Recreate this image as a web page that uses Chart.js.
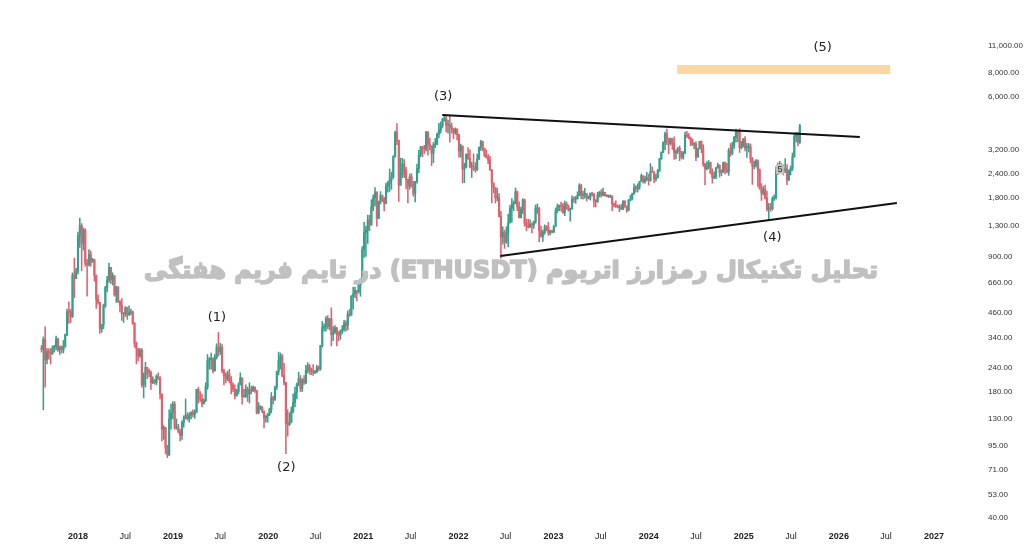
<!DOCTYPE html>
<html>
<head>
<meta charset="utf-8">
<script src="https://cdn.jsdelivr.net/npm/chart.js@4.4.1/dist/chart.umd.min.js"></script>
<style>
  html, body { margin: 0; padding: 0; background: #fff; }
  #wrap { width: 1024px; height: 545px; position: relative; }
</style>
</head>
<body>
<div id="wrap"><canvas id="chart"></canvas></div>
<script>
// Weekly ETHUSDT candles, first week starts Mon 14 Aug 2017
const firstWeek = Date.UTC(2017, 7, 14);
const firstOpen = 301;

const closes = [
  // 2017
  298,335,262,290,285,283,302,309,336,296,306,296,307,354,466,463,441,719,690,756,
  // 2018
  1153,1300,1050,1230,830,815,920,840,865,720,540,520,380,400,500,620,680,790,680,715,570,620,525,500,455,455,490,450,460,465,405,320,300,275,295,195,220,240,232,225,200,206,200,216,210,175,115,117,92,85,130,140,
  // 2019
  155,117,118,112,107,125,132,136,130,136,140,137,141,185,167,165,156,162,190,260,265,265,230,270,306,290,305,230,218,210,222,205,195,185,172,180,195,212,170,170,185,175,185,182,190,182,140,150,150,142,132,135,
  // 2020
  137,146,167,163,190,228,260,275,218,200,123,122,125,143,158,178,197,210,187,207,200,231,244,233,228,226,227,240,236,311,386,390,430,390,428,355,365,384,355,353,370,378,407,396,453,448,560,575,600,590,640,685,
  // 2021
  975,1195,1230,1390,1315,1615,1800,1935,1415,1720,1855,1785,1690,2075,2140,2235,2310,2945,3925,3580,2100,2390,2710,2510,2250,2080,2320,2130,1900,2190,2560,3010,3310,3240,3225,3950,3410,3330,3070,3390,3410,3850,4050,4290,4610,4620,4300,4300,4200,4120,3920,4080,
  // 2022
  3830,3150,3330,2540,2600,3030,2880,2620,2620,2550,2520,2860,3300,3520,3260,2990,2920,2830,2520,2150,2040,1810,1810,1450,1130,1200,1070,1170,1340,1600,1680,1700,1940,1620,1425,1575,1760,1335,1295,1275,1320,1305,1360,1590,1600,1220,1140,1195,1280,1265,1190,1220,
  // 2023
  1200,1290,1550,1630,1650,1630,1515,1680,1640,1565,1585,1780,1775,1795,1860,2090,1865,1870,1900,1800,1805,1910,1890,1750,1720,1860,1930,1865,1930,1850,1860,1830,1845,1685,1655,1635,1615,1625,1580,1735,1635,1560,1760,1785,1895,2045,2015,2065,2195,2350,2195,2265,
  // 2024
  2280,2220,2470,2455,2260,2290,2500,2880,3110,3490,3880,3650,3450,3650,3450,3100,3150,3260,3130,2930,3070,3820,3780,3705,3620,3420,3435,2930,3250,3535,3270,2690,2555,2610,2750,2430,2300,2320,2580,2660,2440,2470,2750,2510,2460,3180,3070,3360,3710,4000,3960,3280,3360,
  // 2025
  3640,3270,3310,3310,2870,2630,2660,2810,2520,2020,1910,2000,1800,1580,1600,1590,1790,1810,2510,2470,2530,2530,2510,2545,2230,2500,2570,2940,3750,3830,3500,4260
];

const highs = [
  312,345,389,300,300,300,310,312,349,340,310,310,331,357,480,524,480,740,880,780,
  1200,1420,1330,1260,1250,870,975,960,880,870,720,570,520,400,510,630,710,830,790,740,715,630,630,530,545,460,495,490,500,480,470,410,325,300,300,300,225,255,240,235,230,215,208,220,225,215,175,120,118,95,145,155,
  160,160,130,122,115,127,135,165,140,140,142,145,145,185,190,180,175,165,200,280,270,285,270,280,318,364,320,315,235,225,230,235,215,200,195,185,200,225,212,185,195,190,200,192,193,190,183,158,152,150,143,135,
  139,148,178,170,192,230,288,285,280,252,201,145,140,150,175,190,199,227,218,210,218,246,254,249,238,248,232,246,244,312,415,403,440,445,430,488,390,395,387,368,375,395,420,418,470,480,565,622,625,600,675,690,
  1010,1350,1290,1470,1470,1765,1870,2040,1940,1740,1945,1870,1815,2150,2200,2545,2450,2980,4000,4372,3590,2900,2890,2850,2600,2250,2400,2410,2200,2200,2700,3180,3330,3340,3375,3980,3970,3670,3360,3490,3660,3900,4380,4460,4665,4868,4770,4550,4780,4400,4100,4150,
  4120,3840,3420,3360,2730,3050,3280,3200,2760,3050,2750,3040,3300,3580,3550,3220,3190,3030,2960,2530,2160,2040,2020,1900,1540,1280,1230,1280,1490,1650,1790,1740,2030,1960,1720,1620,1790,1780,1400,1400,1390,1340,1370,1660,1680,1610,1290,1230,1310,1300,1350,1230,
  1230,1300,1600,1680,1660,1715,1690,1740,1720,1660,1600,1850,1830,1840,1940,2140,2120,1960,2020,1900,1850,1910,1930,1900,1770,1930,1950,1990,2030,1930,1870,1870,1870,1850,1695,1745,1660,1660,1675,1750,1750,1640,1770,1865,1910,2135,2090,2135,2200,2400,2350,2340,
  2445,2400,2715,2610,2470,2390,2535,2890,3120,3520,3950,4093,3680,3680,3660,3730,3200,3290,3350,3130,3130,3950,3980,3890,3720,3640,3480,3520,3250,3540,3560,3400,2720,2780,2820,2760,2550,2460,2600,2730,2680,2520,2760,2770,2720,3250,3450,3500,3750,4090,4000,4110,3540,
  3660,3740,3450,3450,3430,2920,2800,2850,2840,2550,2140,2070,2100,1960,1690,1690,1830,1870,2620,2740,2790,2715,2680,2880,2680,2520,2640,3080,3850,3940,3940,4330
];

const lows = [
  288,145,190,250,265,250,280,288,296,290,280,285,285,305,350,405,410,435,550,690,
  730,1000,760,970,800,560,800,800,840,670,485,510,360,365,380,490,590,660,650,640,560,520,520,465,420,410,440,425,445,450,400,305,250,260,270,190,167,190,210,215,185,198,197,195,208,165,100,102,86,82,84,115,
  130,115,115,110,100,102,118,130,128,125,130,133,131,140,157,160,150,155,160,185,235,235,225,230,265,275,280,225,195,200,205,200,175,180,165,170,175,195,155,168,168,160,157,175,180,178,138,138,145,140,117,125,
  125,135,140,155,162,185,220,235,215,195,86,106,120,125,140,150,165,193,180,180,196,198,225,221,220,218,223,226,230,232,305,370,370,380,375,310,330,360,310,330,335,360,370,370,375,440,445,480,550,530,580,560,
  680,890,900,1050,1220,1300,1550,1640,1290,1410,1680,1730,1545,1680,1930,1950,2000,2280,2930,3400,1730,2100,2300,2300,2010,1700,2000,2050,1840,1720,2150,2440,2950,2950,3060,3150,3000,3200,2650,2740,3280,3400,3680,3900,4150,4500,3960,3900,3500,3900,3650,3850,
  3600,2930,2930,2160,2160,2580,2850,2580,2300,2500,2450,2500,2850,3180,3160,2950,2900,2710,2500,1700,1920,1700,1740,1440,880,1040,990,1050,1006,1350,1350,1550,1680,1550,1420,1420,1500,1290,1220,1260,1270,1190,1255,1335,1500,1070,1130,1075,1170,1220,1155,1160,
  1190,1195,1285,1510,1550,1540,1500,1460,1575,1540,1370,1580,1710,1690,1780,1850,1790,1780,1800,1740,1780,1760,1850,1620,1620,1715,1820,1820,1850,1840,1830,1810,1810,1550,1620,1610,1600,1530,1570,1570,1610,1520,1545,1740,1760,1880,1930,1935,2000,2200,2150,2150,
  2210,2100,2200,2450,2165,2200,2290,2470,2850,3090,3200,3400,3050,3380,3210,2850,2870,3060,2810,2870,2860,3060,3700,3640,3360,3360,3240,2810,2960,3230,3090,2630,2110,2520,2550,2400,2150,2270,2270,2570,2310,2350,2440,2400,2440,2360,2960,3020,3250,3500,3510,3100,3230,
  3300,3160,2920,3120,2740,2120,2550,2600,2070,2000,1750,1870,1780,1540,1385,1540,1560,1750,1780,2380,2410,2470,2370,2440,2110,2220,2370,2500,2930,3510,3350,3450
];

// axis ticks
const yearTicks = [2018, 2019, 2020, 2021, 2022, 2023, 2024, 2025, 2026, 2027];
const priceTicks = [40, 53, 71, 95, 130, 180, 240, 340, 460, 660, 900, 1300, 1800, 2400, 3200, 6000, 8000, 11000];

// drawings (x in years, y in USDT)
const upperLine = [{ x: 2021.83, y: 4840 }, { x: 2026.22, y: 3720 }];
const lowerLine = [{ x: 2022.44, y: 904 }, { x: 2026.61, y: 1700 }];
const waveLabels = ['(1)', '(2)', '(3)', '(4)', '(5)'];
const waveX = [2019.46, 2020.19, 2021.84, 2025.30, 2025.83];
const waveY = [432, 73, 6000, 1120, 10740];
const targetZone = { x0: 2024.30, x1: 2026.54, y0: 7880, y1: 8770 };
const noteMark = { x: 2025.38, y: 2540, text: '5' };
const titleText = 'تحلیل تکنیکال رمزارز اتریوم (ETHUSDT) در تایم فریم هفتگی';

const GREEN = '#35a08b';
const RED = '#e25f6c';

function toYear(ms) {
    const d = new Date(ms);
    const y = d.getUTCFullYear();
    const start = Date.UTC(y, 0, 1), end = Date.UTC(y + 1, 0, 1);
    return y + (ms - start) / (end - start);
}

const weekX = closes.map((c, i) => toYear(firstWeek + i * 7 * 864e5));
const opens = closes.map((c, i) => i === 0 ? firstOpen : closes[i - 1]);
const colors = closes.map((c, i) => c >= opens[i] ? GREEN : RED);

const xTicks = [];
yearTicks.forEach((y, i) => {
    xTicks.push(y);
    if (i < yearTicks.length - 1) xTicks.push(toYear(Date.UTC(y, 6, 1)));
});

// overlay: target zone, watermark title, wave labels
const overlay = {
    id: 'overlay',
    beforeDatasetsDraw(chart) {
        const { ctx, scales: { x, y } } = chart;
        const x0 = x.getPixelForValue(targetZone.x0), x1 = x.getPixelForValue(targetZone.x1);
        const y0 = y.getPixelForValue(targetZone.y1), y1 = y.getPixelForValue(targetZone.y0);
        ctx.save();
        ctx.fillStyle = '#fbd8a2';
        ctx.fillRect(x0, y0, x1 - x0, y1 - y0);
        ctx.restore();
    },
    afterDatasetsDraw(chart) {
        const { ctx, scales: { x, y } } = chart;
        ctx.save();
        // small note marker
        const mx = x.getPixelForValue(noteMark.x), my = y.getPixelForValue(noteMark.y);
        ctx.fillStyle = 'rgba(200,200,200,0.9)';
        ctx.fillRect(mx - 4, my - 5, 8, 10);
        ctx.fillStyle = '#333';
        ctx.font = '9px "Liberation Sans"';
        ctx.textAlign = 'center';
        ctx.textBaseline = 'middle';
        ctx.fillText(noteMark.text, mx, my + 0.5);

        // watermark
        ctx.direction = 'rtl';
        ctx.font = 'bold 30px "DejaVu Sans"';
        const w = ctx.measureText(titleText).width;
        const size = 30 * 734 / w;
        ctx.font = 'bold ' + size.toFixed(1) + 'px "DejaVu Sans"';
        ctx.fillStyle = 'rgb(192,192,192)';
        ctx.strokeStyle = 'rgb(192,192,192)';
        ctx.lineWidth = 1.6;
        ctx.lineJoin = 'round';
        ctx.fillText(titleText, 511, 272);
        ctx.strokeText(titleText, 511, 272);

        // wave labels
        ctx.direction = 'ltr';
        ctx.font = '13px "DejaVu Sans"';
        ctx.fillStyle = '#222';
        waveLabels.forEach((t, i) => {
            ctx.fillText(t, x.getPixelForValue(waveX[i]), y.getPixelForValue(waveY[i]));
        });
        ctx.restore();
    }
};

new Chart(document.getElementById('chart'), {
    type: 'bar',
    data: {
        datasets: [
            {
                type: 'line', label: 'upper', data: upperLine, order: 0,
                borderColor: '#111', borderWidth: 2, pointRadius: 0, fill: false
            },
            {
                type: 'line', label: 'lower', data: lowerLine, order: 0,
                borderColor: '#111', borderWidth: 2, pointRadius: 0, fill: false
            },
            {
                label: 'body', order: 1, grouped: false,
                data: weekX.map((x, i) => ({ x, y: [opens[i], closes[i]] })),
                backgroundColor: colors, barThickness: 1.5, minBarLength: 1
            },
            {
                label: 'wick', order: 2, grouped: false,
                data: weekX.map((x, i) => ({
                    x,
                    y: [Math.min(lows[i], opens[i], closes[i]), Math.max(highs[i], opens[i], closes[i])]
                })),
                backgroundColor: colors, barThickness: 0.9
            }
        ]
    },
    options: {
        responsive: true,
        maintainAspectRatio: false,
        animation: false,
        events: [],
        layout: { padding: 0 },
        plugins: { legend: { display: false }, tooltip: { enabled: false } },
        scales: {
            x: {
                type: 'linear', min: 2017.18, max: 2027.221, offset: false,
                grid: { display: false, drawTicks: false }, border: { display: false },
                afterBuildTicks: s => { s.ticks = xTicks.map(v => ({ value: v })); },
                afterFit: s => { s.height = 20; s.paddingLeft = 0; s.paddingRight = 0; },
                ticks: {
                    autoSkip: false, maxRotation: 0, padding: 6, color: '#222',
                    font: c => ({ family: 'Liberation Sans', size: 9, weight: Number.isInteger(c.tick && c.tick.value) ? 'bold' : 'normal' }),
                    callback: v => Number.isInteger(v) ? String(v) : 'Jul'
                }
            },
            y: {
                type: 'logarithmic', position: 'right', min: 36.8, max: 19020,
                grid: { display: false, drawTicks: false }, border: { display: false },
                afterBuildTicks: s => { s.ticks = priceTicks.map(v => ({ value: v })); },
                afterFit: s => { s.width = 69; s.paddingTop = 0; s.paddingBottom = 0; },
                ticks: {
                    autoSkip: false, padding: 33, color: '#333',
                    font: { family: 'Liberation Sans', size: 8 },
                    callback: v => Number(v).toLocaleString('en-US', { minimumFractionDigits: 2, maximumFractionDigits: 2 })
                }
            }
        }
    },
    plugins: [overlay]
});
</script>
</body>
</html>
